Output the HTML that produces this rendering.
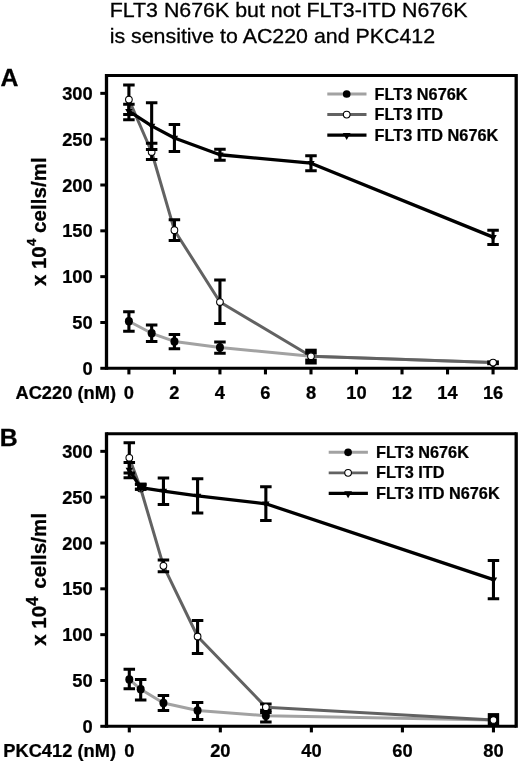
<!DOCTYPE html>
<html><head><meta charset="utf-8"><title>FLT3 N676K figure</title>
<style>
html,body{margin:0;padding:0;background:#fff}
svg{display:block}
text{font-family:"Liberation Sans",Arial,Helvetica,sans-serif;fill:#000}
.tt{font-size:20.3px;stroke:#000;stroke-width:0.3px}
.tk{font-size:18.2px;font-weight:bold;stroke:#000;stroke-width:0.25px}
.lg{font-size:15.6px;font-weight:bold;stroke:#000;stroke-width:0.25px}
.lt{font-size:24.8px;font-weight:bold;stroke:#000;stroke-width:0.3px}
.yl{font-size:20.4px;font-weight:bold;stroke:#000;stroke-width:0.3px}
.sup{font-size:13.2px}
</style></head><body>
<svg width="520" height="763" viewBox="0 0 520 763">
<rect width="520" height="763" fill="#fff"/>
<text transform="translate(109.70 16.60) scale(1.053 1)" text-anchor="start" class="tt">FLT3 N676K but not FLT3-ITD N676K</text>
<text transform="translate(109.70 42.60) scale(1.053 1)" text-anchor="start" class="tt">is sensitive to AC220 and PKC412</text>
<path d="M106.5 74.0V369.8M516.2 74.0V369.8" stroke="#000" stroke-width="3.3" fill="none"/>
<path d="M106.5 75.5H516.2M106.5 368.3H516.2" stroke="#000" stroke-width="3" fill="none"/>
<path d="M100.3 368.30H106.5" stroke="#000" stroke-width="3"/>
<text transform="translate(92.70 374.80) scale(1.005 1)" text-anchor="end" class="tk">0</text>
<path d="M100.3 322.48H106.5" stroke="#000" stroke-width="3"/>
<text transform="translate(92.70 328.98) scale(1.005 1)" text-anchor="end" class="tk">50</text>
<path d="M100.3 276.65H106.5" stroke="#000" stroke-width="3"/>
<text transform="translate(92.70 283.15) scale(1.005 1)" text-anchor="end" class="tk">100</text>
<path d="M100.3 230.83H106.5" stroke="#000" stroke-width="3"/>
<text transform="translate(92.70 237.33) scale(1.005 1)" text-anchor="end" class="tk">150</text>
<path d="M100.3 185.00H106.5" stroke="#000" stroke-width="3"/>
<text transform="translate(92.70 191.50) scale(1.005 1)" text-anchor="end" class="tk">200</text>
<path d="M100.3 139.18H106.5" stroke="#000" stroke-width="3"/>
<text transform="translate(92.70 145.68) scale(1.005 1)" text-anchor="end" class="tk">250</text>
<path d="M100.3 93.35H106.5" stroke="#000" stroke-width="3"/>
<text transform="translate(92.70 99.85) scale(1.005 1)" text-anchor="end" class="tk">300</text>
<path d="M128.90 368.3V374.40000000000003" stroke="#000" stroke-width="3.1"/>
<text transform="translate(128.90 398.80) scale(1.005 1)" text-anchor="middle" class="tk">0</text>
<path d="M174.42 368.3V374.40000000000003" stroke="#000" stroke-width="3.1"/>
<text transform="translate(174.42 398.80) scale(1.005 1)" text-anchor="middle" class="tk">2</text>
<path d="M219.94 368.3V374.40000000000003" stroke="#000" stroke-width="3.1"/>
<text transform="translate(219.94 398.80) scale(1.005 1)" text-anchor="middle" class="tk">4</text>
<path d="M265.46 368.3V374.40000000000003" stroke="#000" stroke-width="3.1"/>
<text transform="translate(265.46 398.80) scale(1.005 1)" text-anchor="middle" class="tk">6</text>
<path d="M310.98 368.3V374.40000000000003" stroke="#000" stroke-width="3.1"/>
<text transform="translate(310.98 398.80) scale(1.005 1)" text-anchor="middle" class="tk">8</text>
<path d="M356.50 368.3V374.40000000000003" stroke="#000" stroke-width="3.1"/>
<text transform="translate(356.50 398.80) scale(1.005 1)" text-anchor="middle" class="tk">10</text>
<path d="M402.02 368.3V374.40000000000003" stroke="#000" stroke-width="3.1"/>
<text transform="translate(402.02 398.80) scale(1.005 1)" text-anchor="middle" class="tk">12</text>
<path d="M447.54 368.3V374.40000000000003" stroke="#000" stroke-width="3.1"/>
<text transform="translate(447.54 398.80) scale(1.005 1)" text-anchor="middle" class="tk">14</text>
<path d="M493.06 368.3V374.40000000000003" stroke="#000" stroke-width="3.1"/>
<text transform="translate(493.06 398.80) scale(1.005 1)" text-anchor="middle" class="tk">16</text>
<text transform="translate(116.00 398.80) scale(1.005 1)" text-anchor="end" class="tk">AC220 (nM)</text>
<text x="0.6" y="85.8" class="lt">A</text>
<text transform="translate(46 286.00) rotate(-90) scale(1.0 1.0)" class="yl">x 10<tspan dy="-9.6" dx="0.3" font-size="13.2">4</tspan><tspan dy="9.6" dx="5.6" letter-spacing="0.15">cells/ml</tspan></text>
<path d="M128.90 321.28 L151.66 333.29 L174.42 341.45 L219.94 347.50 L310.98 356.20 L493.06 362.62" stroke="#a2a2a2" stroke-width="3.0" fill="none" stroke-linejoin="round"/>
<path d="M128.90 311.70V331.30" stroke="#000" stroke-width="3.1" fill="none"/><path d="M123.15 311.70H134.65M123.15 331.30H134.65" stroke="#000" stroke-width="3.0" fill="none"/>
<path d="M151.66 325.00V341.50" stroke="#000" stroke-width="3.1" fill="none"/><path d="M145.91 325.00H157.41M145.91 341.50H157.41" stroke="#000" stroke-width="3.0" fill="none"/>
<path d="M174.42 334.60V348.70" stroke="#000" stroke-width="3.1" fill="none"/><path d="M168.67 334.60H180.17M168.67 348.70H180.17" stroke="#000" stroke-width="3.0" fill="none"/>
<path d="M219.94 342.10V353.30" stroke="#000" stroke-width="3.1" fill="none"/><path d="M214.19 342.10H225.69M214.19 353.30H225.69" stroke="#000" stroke-width="3.0" fill="none"/>
<ellipse cx="128.90" cy="321.28" rx="4.0" ry="4.2" fill="#000"/>
<ellipse cx="151.66" cy="333.29" rx="4.0" ry="4.2" fill="#000"/>
<ellipse cx="174.42" cy="341.45" rx="4.0" ry="4.2" fill="#000"/>
<ellipse cx="219.94" cy="347.50" rx="4.0" ry="4.2" fill="#000"/>
<path d="M128.90 99.58 L151.66 152.01 L174.42 230.18 L219.94 302.04 L310.98 356.20 L493.06 362.62" stroke="#626262" stroke-width="3.0" fill="none" stroke-linejoin="round"/>
<path d="M128.90 84.90V114.50" stroke="#000" stroke-width="3.1" fill="none"/><path d="M123.15 84.90H134.65M123.15 114.50H134.65" stroke="#000" stroke-width="3.0" fill="none"/>
<path d="M151.66 143.20V159.40" stroke="#000" stroke-width="3.1" fill="none"/><path d="M145.91 143.20H157.41M145.91 159.40H157.41" stroke="#000" stroke-width="3.0" fill="none"/>
<path d="M174.42 219.80V240.40" stroke="#000" stroke-width="3.1" fill="none"/><path d="M168.67 219.80H180.17M168.67 240.40H180.17" stroke="#000" stroke-width="3.0" fill="none"/>
<path d="M219.94 280.00V323.50" stroke="#000" stroke-width="3.1" fill="none"/><path d="M214.19 280.00H225.69M214.19 323.50H225.69" stroke="#000" stroke-width="3.0" fill="none"/>
<rect x="305.23" y="348.7" width="11.5" height="5.9" fill="#000"/><rect x="305.23" y="358.6" width="11.5" height="5.9" fill="#000"/><path d="M310.98 350V363" stroke="#000" stroke-width="3.1"/>
<rect x="487.21" y="360.4" width="11.7" height="4.8" fill="#000"/><path d="M493.06 362V368" stroke="#000" stroke-width="3.1"/>
<circle cx="128.90" cy="99.58" r="3.35" fill="#fff" stroke="#000" stroke-width="1.05"/>
<circle cx="151.66" cy="152.01" r="3.35" fill="#fff" stroke="#000" stroke-width="1.05"/>
<circle cx="174.42" cy="230.18" r="3.35" fill="#fff" stroke="#000" stroke-width="1.05"/>
<circle cx="219.94" cy="302.04" r="3.35" fill="#fff" stroke="#000" stroke-width="1.05"/>
<circle cx="310.98" cy="356.20" r="3.35" fill="#fff" stroke="#000" stroke-width="1.05"/>
<circle cx="493.06" cy="362.62" r="3.35" fill="#fff" stroke="#000" stroke-width="1.05"/>
<path d="M128.90 111.22 L151.66 125.89 L174.42 137.98 L219.94 154.76 L310.98 163.19 L493.06 237.15" stroke="#000" stroke-width="3.3" fill="none" stroke-linejoin="round"/>
<path d="M128.90 104.20V119.80" stroke="#000" stroke-width="3.1" fill="none"/><path d="M123.15 104.20H134.65M123.15 119.80H134.65" stroke="#000" stroke-width="3.0" fill="none"/>
<path d="M151.66 102.80V149.60" stroke="#000" stroke-width="3.1" fill="none"/><path d="M145.91 102.80H157.41M145.91 149.60H157.41" stroke="#000" stroke-width="3.0" fill="none"/>
<path d="M174.42 124.60V151.50" stroke="#000" stroke-width="3.1" fill="none"/><path d="M168.67 124.60H180.17M168.67 151.50H180.17" stroke="#000" stroke-width="3.0" fill="none"/>
<path d="M219.94 149.30V160.30" stroke="#000" stroke-width="3.1" fill="none"/><path d="M214.19 149.30H225.69M214.19 160.30H225.69" stroke="#000" stroke-width="3.0" fill="none"/>
<path d="M310.98 155.75V170.75" stroke="#000" stroke-width="3.1" fill="none"/><path d="M305.23 155.75H316.73M305.23 170.75H316.73" stroke="#000" stroke-width="3.0" fill="none"/>
<path d="M493.06 230.30V244.40" stroke="#000" stroke-width="3.1" fill="none"/><path d="M487.31 230.30H498.81M487.31 244.40H498.81" stroke="#000" stroke-width="3.0" fill="none"/>
<path d="M125.20 109.02H132.60L128.90 115.52Z" fill="#000"/>
<path d="M147.96 123.69H155.36L151.66 130.19Z" fill="#000"/>
<path d="M170.72 135.78H178.12L174.42 142.28Z" fill="#000"/>
<path d="M216.24 152.56H223.64L219.94 159.06Z" fill="#000"/>
<path d="M307.28 160.99H314.68L310.98 167.49Z" fill="#000"/>
<path d="M489.36 234.95H496.76L493.06 241.45Z" fill="#000"/>
<path d="M327.30 94.00H366.50" stroke="#a2a2a2" stroke-width="2.9"/>
<circle cx="346.70" cy="94.00" r="3.85" fill="#000"/>
<text transform="translate(374.60 99.60) scale(1.045 1)" text-anchor="start" class="lg">FLT3 N676K</text>
<path d="M327.30 114.55H366.50" stroke="#626262" stroke-width="2.9"/>
<circle cx="346.70" cy="114.55" r="3.35" fill="#fff" stroke="#000" stroke-width="1.05"/>
<text transform="translate(374.60 120.15) scale(1.045 1)" text-anchor="start" class="lg">FLT3 ITD</text>
<path d="M327.30 135.10H366.50" stroke="#000" stroke-width="3.3"/>
<path d="M342.80 133.00H350.60L346.70 140.00Z" fill="#000"/>
<text transform="translate(374.60 140.70) scale(1.045 1)" text-anchor="start" class="lg">FLT3 ITD N676K</text>
<path d="M106.5 432.2V727.8M516.2 432.2V727.8" stroke="#000" stroke-width="3.3" fill="none"/>
<path d="M106.5 433.7H516.2M106.5 726.3H516.2" stroke="#000" stroke-width="3" fill="none"/>
<path d="M100.3 726.30H106.5" stroke="#000" stroke-width="3"/>
<text transform="translate(92.70 732.80) scale(1.005 1)" text-anchor="end" class="tk">0</text>
<path d="M100.3 680.47H106.5" stroke="#000" stroke-width="3"/>
<text transform="translate(92.70 686.97) scale(1.005 1)" text-anchor="end" class="tk">50</text>
<path d="M100.3 634.65H106.5" stroke="#000" stroke-width="3"/>
<text transform="translate(92.70 641.15) scale(1.005 1)" text-anchor="end" class="tk">100</text>
<path d="M100.3 588.82H106.5" stroke="#000" stroke-width="3"/>
<text transform="translate(92.70 595.32) scale(1.005 1)" text-anchor="end" class="tk">150</text>
<path d="M100.3 543.00H106.5" stroke="#000" stroke-width="3"/>
<text transform="translate(92.70 549.50) scale(1.005 1)" text-anchor="end" class="tk">200</text>
<path d="M100.3 497.17H106.5" stroke="#000" stroke-width="3"/>
<text transform="translate(92.70 503.67) scale(1.005 1)" text-anchor="end" class="tk">250</text>
<path d="M100.3 451.35H106.5" stroke="#000" stroke-width="3"/>
<text transform="translate(92.70 457.85) scale(1.005 1)" text-anchor="end" class="tk">300</text>
<path d="M129.30 726.3V732.4" stroke="#000" stroke-width="3.1"/>
<text transform="translate(129.30 756.80) scale(1.005 1)" text-anchor="middle" class="tk">0</text>
<path d="M220.34 726.3V732.4" stroke="#000" stroke-width="3.1"/>
<text transform="translate(220.34 756.80) scale(1.005 1)" text-anchor="middle" class="tk">20</text>
<path d="M311.38 726.3V732.4" stroke="#000" stroke-width="3.1"/>
<text transform="translate(311.38 756.80) scale(1.005 1)" text-anchor="middle" class="tk">40</text>
<path d="M402.42 726.3V732.4" stroke="#000" stroke-width="3.1"/>
<text transform="translate(402.42 756.80) scale(1.005 1)" text-anchor="middle" class="tk">60</text>
<path d="M493.46 726.3V732.4" stroke="#000" stroke-width="3.1"/>
<text transform="translate(493.46 756.80) scale(1.005 1)" text-anchor="middle" class="tk">80</text>
<text transform="translate(116.00 756.80) scale(1.005 1)" text-anchor="end" class="tk">PKC412 (nM)</text>
<text x="-0.2" y="445.8" class="lt">B</text>
<text transform="translate(46 645.70) rotate(-90) scale(1.0 1.0)" class="yl">x 10<tspan dy="-7.8" dx="0.2" font-size="16.4">4</tspan><tspan dy="7.8" dx="7.9" letter-spacing="0.15">cells/ml</tspan></text>
<path d="M129.30 679.47 L140.68 689.27 L163.44 703.02 L197.58 710.54 L265.86 715.76 L493.46 719.98" stroke="#a2a2a2" stroke-width="3.0" fill="none" stroke-linejoin="round"/>
<path d="M129.30 669.25V688.75" stroke="#000" stroke-width="3.1" fill="none"/><path d="M123.55 669.25H135.05M123.55 688.75H135.05" stroke="#000" stroke-width="3.0" fill="none"/>
<path d="M140.68 679.50V700.00" stroke="#000" stroke-width="3.1" fill="none"/><path d="M134.93 679.50H146.43M134.93 700.00H146.43" stroke="#000" stroke-width="3.0" fill="none"/>
<path d="M163.44 695.50V710.50" stroke="#000" stroke-width="3.1" fill="none"/><path d="M157.69 695.50H169.19M157.69 710.50H169.19" stroke="#000" stroke-width="3.0" fill="none"/>
<path d="M197.58 702.50V719.50" stroke="#000" stroke-width="3.1" fill="none"/><path d="M191.83 702.50H203.33M191.83 719.50H203.33" stroke="#000" stroke-width="3.0" fill="none"/>
<path d="M265.86 710.20V722.00" stroke="#000" stroke-width="3.1" fill="none"/><path d="M260.11 710.20H271.61M260.11 722.00H271.61" stroke="#000" stroke-width="3.0" fill="none"/>
<ellipse cx="129.30" cy="679.47" rx="4.0" ry="4.2" fill="#000"/>
<ellipse cx="140.68" cy="689.27" rx="4.0" ry="4.2" fill="#000"/>
<ellipse cx="163.44" cy="703.02" rx="4.0" ry="4.2" fill="#000"/>
<ellipse cx="197.58" cy="710.54" rx="4.0" ry="4.2" fill="#000"/>
<ellipse cx="265.86" cy="715.76" rx="4.0" ry="4.2" fill="#000"/>
<path d="M129.30 457.77 L140.68 488.47 L163.44 565.82 L197.58 636.48 L265.86 707.15 L493.46 719.98" stroke="#626262" stroke-width="3.0" fill="none" stroke-linejoin="round"/>
<path d="M129.30 442.70V473.00" stroke="#000" stroke-width="3.1" fill="none"/><path d="M123.55 442.70H135.05M123.55 473.00H135.05" stroke="#000" stroke-width="3.0" fill="none"/>
<path d="M140.68 484.30V489.20" stroke="#000" stroke-width="3.1" fill="none"/><path d="M134.93 484.30H146.43M134.93 489.20H146.43" stroke="#000" stroke-width="3.0" fill="none"/>
<path d="M163.44 559.90V571.70" stroke="#000" stroke-width="3.1" fill="none"/><path d="M157.69 559.90H169.19M157.69 571.70H169.19" stroke="#000" stroke-width="3.0" fill="none"/>
<path d="M197.58 620.40V653.40" stroke="#000" stroke-width="3.1" fill="none"/><path d="M191.83 620.40H203.33M191.83 653.40H203.33" stroke="#000" stroke-width="3.0" fill="none"/>
<path d="M265.86 704.00V712.40" stroke="#000" stroke-width="3.1" fill="none"/><path d="M260.11 704.00H271.61M260.11 712.40H271.61" stroke="#000" stroke-width="3.0" fill="none"/>
<rect x="487.76" y="713.1" width="11.4" height="12" fill="#000"/>
<circle cx="129.30" cy="457.77" r="3.35" fill="#fff" stroke="#000" stroke-width="1.05"/>
<circle cx="140.68" cy="488.47" r="3.35" fill="#fff" stroke="#000" stroke-width="1.05"/>
<circle cx="163.44" cy="565.82" r="3.35" fill="#fff" stroke="#000" stroke-width="1.05"/>
<circle cx="197.58" cy="636.48" r="3.35" fill="#fff" stroke="#000" stroke-width="1.05"/>
<circle cx="265.86" cy="707.15" r="3.35" fill="#fff" stroke="#000" stroke-width="1.05"/>
<circle cx="493.46" cy="719.98" r="3.35" fill="#fff" stroke="#000" stroke-width="1.05"/>
<path d="M129.30 470.05 L140.68 487.55 L163.44 491.03 L197.58 495.98 L265.86 503.77 L493.46 579.66" stroke="#000" stroke-width="3.3" fill="none" stroke-linejoin="round"/>
<path d="M129.30 462.40V477.80" stroke="#000" stroke-width="3.1" fill="none"/><path d="M123.55 462.40H135.05M123.55 477.80H135.05" stroke="#000" stroke-width="3.0" fill="none"/>
<path d="M140.68 484.30V489.20" stroke="#000" stroke-width="3.1" fill="none"/><path d="M134.93 484.30H146.43M134.93 489.20H146.43" stroke="#000" stroke-width="3.0" fill="none"/>
<path d="M163.44 478.00V504.60" stroke="#000" stroke-width="3.1" fill="none"/><path d="M157.69 478.00H169.19M157.69 504.60H169.19" stroke="#000" stroke-width="3.0" fill="none"/>
<path d="M197.58 478.80V513.00" stroke="#000" stroke-width="3.1" fill="none"/><path d="M191.83 478.80H203.33M191.83 513.00H203.33" stroke="#000" stroke-width="3.0" fill="none"/>
<path d="M265.86 486.75V520.50" stroke="#000" stroke-width="3.1" fill="none"/><path d="M260.11 486.75H271.61M260.11 520.50H271.61" stroke="#000" stroke-width="3.0" fill="none"/>
<path d="M493.46 560.40V598.80" stroke="#000" stroke-width="3.1" fill="none"/><path d="M487.71 560.40H499.21M487.71 598.80H499.21" stroke="#000" stroke-width="3.0" fill="none"/>
<rect x="137.48" y="483.5" width="8.9" height="6.5" fill="#000"/>
<path d="M125.60 467.85H133.00L129.30 474.35Z" fill="#000"/>
<path d="M136.98 485.35H144.38L140.68 491.85Z" fill="#000"/>
<path d="M159.74 488.83H167.14L163.44 495.33Z" fill="#000"/>
<path d="M193.88 493.78H201.28L197.58 500.28Z" fill="#000"/>
<path d="M262.16 501.57H269.56L265.86 508.07Z" fill="#000"/>
<path d="M489.76 577.46H497.16L493.46 583.96Z" fill="#000"/>
<path d="M328.70 452.30H367.90" stroke="#a2a2a2" stroke-width="2.9"/>
<circle cx="348.10" cy="452.30" r="3.85" fill="#000"/>
<text transform="translate(376.00 457.90) scale(1.045 1)" text-anchor="start" class="lg">FLT3 N676K</text>
<path d="M328.70 472.85H367.90" stroke="#626262" stroke-width="2.9"/>
<circle cx="348.10" cy="472.85" r="3.35" fill="#fff" stroke="#000" stroke-width="1.05"/>
<text transform="translate(376.00 478.45) scale(1.045 1)" text-anchor="start" class="lg">FLT3 ITD</text>
<path d="M328.70 493.40H367.90" stroke="#000" stroke-width="3.3"/>
<path d="M344.20 491.30H352.00L348.10 498.30Z" fill="#000"/>
<text transform="translate(376.00 499.00) scale(1.045 1)" text-anchor="start" class="lg">FLT3 ITD N676K</text>
</svg>
</body></html>
